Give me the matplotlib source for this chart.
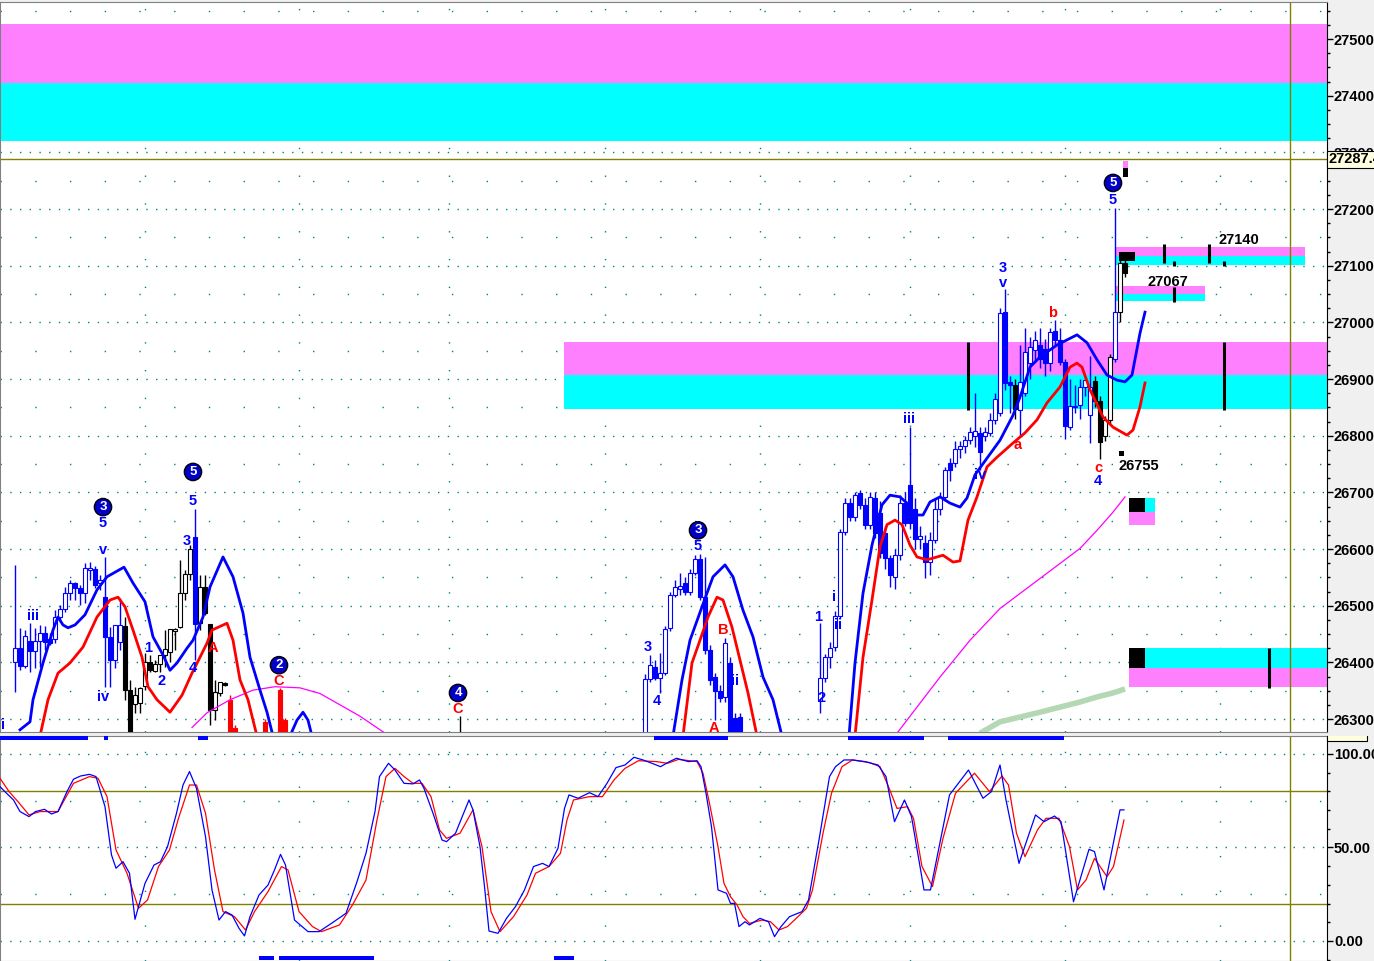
import matplotlib.pyplot as plt
from matplotlib.patches import Rectangle
from matplotlib.ticker import MultipleLocator
from matplotlib.transforms import Bbox, TransformedBbox, blended_transform_factory

plt.rcParams['font.family'] = ['Liberation Sans', 'DejaVu Sans']

BLUE, RED, BLACK = '#0000ff', '#ff0000', '#000000'
PINK, CYAN, OLIVE, TEAL = '#ff80ff', '#00ffff', '#808000', '#008080'

# ---- price candles (bar number, open, high, low, close, colour code) ----
c_bar = [3, 4, 5, 6, 7, 8, 9, 10, 11, 12, 13, 14, 15, 16, 17, 18, 19, 20, 21, 22, 23, 24,
         25, 26, 27, 28, 29, 30, 31, 32, 33, 34, 35, 36, 37, 38, 39, 40, 41, 42, 43, 44, 45,
         46, 47, 53, 56, 57, 92,
         129, 130, 131, 132, 133, 134, 135, 136, 137, 138, 139, 140, 141, 142, 143, 144, 145,
         146, 147, 148,
         164, 165, 166, 167, 168, 169, 170, 171, 172, 173, 174, 175, 176, 177, 178, 179, 180,
         181, 182, 183, 184, 185, 186, 187, 188, 189, 190, 191, 192, 193, 194, 195, 196, 197,
         198, 199, 200, 201, 202, 203, 204, 205, 206, 207, 208, 209, 210, 211, 212, 213, 214,
         215, 216, 217, 218, 219, 220, 221, 222, 223, 224, 225]
c_open = [26401, 26425, 26394, 26438, 26420, 26438, 26452, 26441, 26441, 26480, 26494, 26522,
          26540, 26531, 26522, 26563, 26565, 26540, 26515, 26445, 26404, 26436,
          26464, 26351, 26326, 26328, 26358, 26400, 26385, 26397, 26413, 26418, 26455, 26462,
          26522, 26556, 26621, 26469, 26533, 26468, 26316, 26346, 26363,
          26333, 26284, 26294, 26351, 26298, 26230,
          26250, 26371, 26392, 26372, 26381, 26461, 26519, 26530, 26540, 26524, 26558, 26582,
          26515, 26422, 26374, 26349, 26339, 26399, 26302, 26304,
          26332, 26372, 26409, 26427, 26482, 26630, 26681, 26656, 26699, 26678, 26642, 26690,
          26664, 26628, 26584, 26550, 26589, 26681, 26713, 26671, 26618, 26611, 26577, 26616,
          26671, 26692, 26752, 26752, 26776, 26782, 26792, 26800, 26805, 26800, 26805, 26828,
          26840, 27018, 26895, 26889, 26845, 26876, 26928, 26951, 26960, 26953, 26928, 26985,
          26969, 26930, 26815, 26850, 26854, 26886, 26836, 26896, 26862, 26799, 26827, 26935,
          27018, 27105]
c_high = [26572, 26461, 26457, 26469, 26461, 26466, 26464, 26452, 26492, 26501, 26533, 26545,
          26542, 26536, 26575, 26577, 26570, 26554, 26586, 26462, 26466, 26513,
          26480, 26369, 26356, 26356, 26416, 26413, 26404, 26413, 26457, 26459, 26461, 26581,
          26563, 26607, 26671, 26554, 26554, 26468, 26369, 26365, 26365,
          26342, 26290, 26300, 26355, 26302, 26305,
          26380, 26413, 26404, 26416, 26464, 26525, 26545, 26558, 26550, 26565, 26589, 26591,
          26586, 26430, 26381, 26360, 26443, 26410, 26310, 26310,
          26469, 26415, 26436, 26490, 26635, 26690, 26690, 26700, 26704, 26690, 26700, 26700,
          26685, 26640, 26590, 26600, 26695, 26700, 26815, 26690, 26640, 26625, 26630, 26690,
          26700, 26745, 26760, 26790, 26790, 26800, 26815, 26875, 26815, 26815, 26840, 26875,
          27025, 27059, 26905, 26900, 26960, 26990, 26975, 26985, 26990, 26970, 26990, 27004,
          26990, 26935, 26900, 26890, 26900, 26900, 26940, 26905, 26870, 26835, 26945, 27202,
          27110, 27110]
c_low = [26348, 26387, 26390, 26383, 26390, 26392, 26422, 26431, 26434, 26471, 26489, 26510,
         26510, 26501, 26505, 26545, 26531, 26528, 26356, 26356, 26390, 26422,
         26333, 26200, 26311, 26311, 26351, 26383, 26383, 26383, 26392, 26401, 26422, 26461,
         26510, 26545, 26404, 26457, 26483, 26289, 26298, 26341, 26358,
         26200, 26200, 26200, 26200, 26200, 26200,
         26200, 26365, 26369, 26346, 26378, 26455, 26515, 26519, 26519, 26519, 26555, 26510,
         26415, 26360, 26298, 26330, 26330, 26200, 26200, 26200,
         26311, 26365, 26390, 26420, 26478, 26625, 26650, 26650, 26670, 26635, 26635, 26620,
         26585, 26565, 26533, 26530, 26580, 26640, 26635, 26600, 26600, 26549, 26555, 26610,
         26660, 26685, 26720, 26745, 26760, 26770, 26785, 26780, 26740, 26790, 26800, 26820,
         26835, 26880, 26840, 26830, 26800, 26870, 26900, 26930, 26920, 26905, 26915, 26960,
         26925, 26795, 26810, 26840, 26830, 26870, 26787, 26850, 26759, 26790, 26820, 26930,
         27000, 27080]
c_close = [26425, 26394, 26447, 26420, 26438, 26452, 26436, 26434, 26480, 26494, 26522, 26540,
           26531, 26522, 26566, 26566, 26536, 26545, 26445, 26404, 26466, 26466,
           26351, 26210, 26342, 26355, 26400, 26386, 26397, 26413, 26424, 26459, 26459, 26522,
           26556, 26600, 26468, 26533, 26487, 26316, 26348, 26365, 26360,
           26210, 26210, 26210, 26210, 26210, 26220,
           26371, 26395, 26372, 26381, 26459, 26519, 26533, 26534, 26524, 26558, 26582, 26515,
           26422, 26369, 26349, 26337, 26434, 26220, 26220, 26220,
           26372, 26409, 26425, 26482, 26630, 26681, 26656, 26695, 26678, 26642, 26692, 26628,
           26593, 26584, 26554, 26589, 26681, 26646, 26646, 26618, 26623, 26577, 26616, 26671,
           26692, 26739, 26739, 26776, 26782, 26792, 26806, 26808, 26771, 26806, 26828, 26865,
           27017, 26893, 26890, 26847, 26895, 26948, 26956, 26969, 26935, 26928, 26983, 26969,
           26930, 26817, 26852, 26853, 26886, 26898, 26886, 26862, 26789, 26827, 26939, 27018,
           27105, 27087]
c_col = ('bbbbbbbbbbbbbbbbbbbbbb' 'kkkkkkkkkkkkkkbkkkkkk' 'rrrrrk'
         'bbbbbbbbbbbbbbbbbbbb'
         'bbbbbbbbbbbbbbbbbbbbbbbbbbbbbbbbbbbbbbbkbbbbbbbbbbbbbbbkkkkbkk')

# ---- smoothed bands drawn over the price (bar, price) ----
blue_bands = [
    ([4, 6, 6.6, 8.6, 10.6, 11.6, 12.6, 13.6, 15, 17, 19.4, 21.4, 23, 24.8, 26.6, 29, 30.6,
      32.6, 34, 35.4, 37.4, 38.6, 40.6, 42, 44.6, 46.6, 48.6, 50, 52, 53.4, 54.6],
     [26281, 26295, 26334, 26399, 26457, 26480, 26466, 26461, 26466, 26484, 26528, 26551,
      26559, 26568, 26540, 26507, 26445, 26413, 26386, 26399, 26425, 26439, 26480, 26533,
      26586, 26551, 26487, 26409, 26351, 26312, 26270]),
    ([58, 59.4, 60.6, 61.6, 62.4], [26270, 26298, 26312, 26298, 26270]),
    ([134.6, 136.4, 138, 140.4, 142.6, 145, 146.6, 148.6, 150.6, 152.6, 154.6, 156.4],
     [26270, 26369, 26439, 26498, 26551, 26572, 26551, 26492, 26445, 26374, 26334, 26270]),
    ([169.8, 171, 172.6, 174.4, 176.4, 178, 180, 181.4, 183, 184.6, 186, 188, 190, 192, 193.4,
      195, 200, 202.6, 204, 206, 208, 211.4, 215.4, 217.4, 219.4, 221.4, 223.4, 225, 226.4,
      228, 229],
     [26270, 26399, 26522, 26607, 26678, 26695, 26692, 26681, 26660, 26660, 26683, 26692,
      26681, 26674, 26690, 26731, 26792, 26836, 26868, 26921, 26939, 26960, 26978, 26964,
      26934, 26907, 26898, 26895, 26907, 26981, 27018]),
]
red_bands = [
    ([8, 9.6, 11.6, 14, 16.6, 19.4, 22, 23.6, 25, 26.6, 28.4, 29.6, 31.4, 34, 36.4, 38.4, 40,
      41.4, 42.4, 45.4, 46.6, 48, 49.6, 50.6, 51.4],
     [26270, 26334, 26381, 26399, 26427, 26480, 26510, 26515, 26498, 26457, 26409, 26357,
      26334, 26312, 26342, 26381, 26409, 26434, 26457, 26469, 26439, 26369, 26334, 26298,
      26270]),
    ([136.6, 138.4, 140, 141.6, 143.4, 144.6, 146.4, 148, 149.6, 151.4],
     [26270, 26399, 26439, 26480, 26515, 26510, 26462, 26404, 26346, 26270]),
    ([171, 172.6, 174.4, 176, 177.4, 179, 180.4, 182, 183.4, 185.4, 188.6, 190.6, 192, 193.6,
      195.4, 197.4, 199.4, 202.6, 205, 207.4, 209.4, 212, 214, 215.4, 216.4, 218, 220.6,
      222.6, 225.4, 226.6, 228, 229],
     [26270, 26409, 26510, 26604, 26643, 26651, 26643, 26607, 26586, 26581, 26589, 26577,
      26579, 26651, 26692, 26745, 26762, 26787, 26805, 26828, 26858, 26886, 26921, 26928,
      26921, 26881, 26833, 26815, 26801, 26810, 26851, 26893]),
]
magenta_lines = [
    ([38.4, 41.4, 46, 50.6, 55, 60, 64, 68, 72, 77],
     [26285, 26311, 26334, 26351, 26357, 26355, 26345, 26325, 26305, 26275]),
    ([179.4, 188, 194, 200, 208, 216, 219.4, 222.6, 225],
     [26275, 26374, 26439, 26495, 26548, 26601, 26633, 26665, 26692]),
]
green_x = [196, 200, 208, 216, 219.4, 222.6, 225]
green_y = [26275, 26295, 26312, 26330, 26339, 26346, 26353]

# ---- target zones (x from, x to, low, high, colour) ----
zone_x0 = [0, 0, 112.8, 112.8, 223, 223, 223, 223, 225.8, 225.8, 229, 225.8, 229, 225.8, 224.6]
zone_x1 = [265.4, 265.4, 265.4, 265.4, 261, 261, 241, 241, 231, 229, 231, 265.4, 265.4, 229,
           225.6]
zone_lo = [27422, 27320, 26907, 26847, 27117, 27101, 27050, 27038, 26642, 26665, 26665, 26356,
           26390, 26390, 27272]
zone_hi = [27526, 27422, 26965, 26907, 27133, 27117, 27064, 27050, 26665, 26690, 26690, 26390,
           26425, 26425, 27285]
zone_col = [PINK, CYAN, PINK, CYAN, PINK, CYAN, PINK, CYAN, PINK, BLACK, CYAN, PINK, CYAN,
            BLACK, PINK]
box_x0 = [223.8, 224.6, 223.8]
box_x1 = [227, 225.6, 224.8]
box_lo = [27108, 27256, 26764]
box_hi = [27124, 27272, 26773]
tick_bar = [232.8, 234.8, 241.8, 244.8, 234.8, 193.6, 244.8, 253.8]
tick_lo = [27104, 27099, 27104, 27099, 27036, 26845, 26845, 26355]
tick_hi = [27138, 27108, 27138, 27108, 27062, 26965, 26965, 26425]

# ---- wave labels (bar, price, text, colour) ----
lab_x = [0.6, 6.6, 20.6, 20.6, 20.6, 38.6, 37.4, 29.6, 32.4, 38.6, 42.6, 55.8, 91.6,
         129.6, 131.4, 139.6, 144.6, 147, 142.8, 163.6, 164.4, 166.8, 167.6, 181.8, 196,
         200.6, 200.6, 210.6, 203.6, 219.6, 219.6, 222.6]
lab_y = [26289, 26482, 26646, 26598, 26339, 26685, 26614, 26425, 26367, 26390, 26425, 26367,
         26318, 26427, 26332, 26605, 26457, 26367, 26284, 26480, 26337, 26515, 26466, 26829,
         26731, 27096, 27069, 27016, 26783, 26743, 26720, 27216]
lab_t = ['i', 'iii', '5', 'v', 'iv', '5', '3', '1', '2', '4', 'A', 'C', 'C',
         '3', '4', '5', 'B', 'ii', 'A', '1', '2', 'i', 'ii', 'iii', 'iv',
         '3', 'v', 'b', 'a', 'c', '4', '5']
lab_c = ('bbbbbbbbbbrrr' 'bbbrbr' 'bbbbbb' 'bbrrrbb')
circ_x = [20.6, 38.6, 55.8, 91.6, 139.6, 222.6]
circ_y = [26674, 26736, 26395, 26346, 26633, 27246]
circ_t = ['3', '5', '2', '4', '3', '5']
num_x = [223.6, 229.4, 243.6]
num_y = [26746, 27071, 27145]
num_t = ['26755', '27067', '27140']

# ---- stochastic oscillator (bar, value) ----
k_x = [0.0, 1.3, 2.7, 4.0, 5.8, 7.1, 8.9, 10.3, 11.6, 13.4, 14.7, 16.1, 17.9, 19.2, 21.0,
       22.3, 23.2, 24.6, 25.9, 27.0, 29.0, 30.8, 32.1, 33.5, 35.3, 36.6, 37.9, 39.3, 41.1,
       42.4, 43.8, 45.1, 46.4, 47.8, 48.9, 50.0, 51.8, 53.6, 54.9, 56.1, 57.1, 58.9, 61.6,
       63.8, 66.5, 69.2, 71.4, 73.2, 75.0, 75.9, 77.7, 79.0, 80.8, 82.6, 83.9, 84.8, 86.6,
       88.4, 89.3, 91.1, 93.8, 94.6, 96.0, 96.9, 97.8, 99.6, 101.3, 103.1, 104.9, 106.7,
       108.5, 109.8, 111.6, 112.9, 113.8, 115.6, 117.9, 119.6, 121.4, 123.2, 125.0, 126.8,
       128.6, 130.4, 132.1, 133.9, 135.3, 137.7, 139.4, 140.2, 141.2, 142.3, 143.6, 145.3,
       146.1, 146.9, 147.8, 149.0, 149.9, 152.0, 153.7, 154.9, 156.2, 157.9, 160.4, 161.7,
       163.8, 165.9, 167.1, 168.8, 170.5, 173.0, 175.6, 177.2, 178.9, 180.9, 182.3, 184.8,
       186.1, 189.9, 193.7, 196.6, 198.3, 200.0, 201.2, 203.8, 207.1, 208.8, 210.9, 212.2,
       214.7, 217.8, 218.9, 220.8, 224.0, 224.8]
k_v = [82.5, 79.0, 75.4, 69.2, 66.5, 69.2, 70.4, 67.9, 69.2, 79.9, 86.5, 88.2, 89.1, 87.9, 71.8,
       46.0, 38.9, 42.4, 36.2, 11.6, 30.8, 40.6, 42.4, 50.4, 68.3, 83.4, 90.6, 81.6, 55.8,
       27.3, 11.2, 15.7, 13.9, 6.8, 2.7, 13.0, 24.6, 29.9, 38.0, 46.3, 40.6, 11.2, 5.0,
       5.0, 9.8, 14.8, 31.7, 46.9, 69.2, 87.9, 95.0, 91.4, 84.3, 84.0, 86.1, 81.6, 68.3,
       54.0, 53.1, 57.6, 75.4, 70.1, 50.4, 29.1, 5.3, 4.1, 12.1, 18.4, 27.3, 39.8,
       41.5, 39.8, 49.6, 70.9, 78.1, 76.3, 79.3, 77.2, 84.3, 92.7, 94.1, 98.2,
       96.8, 95.0, 93.2, 95.9, 97.7, 95.9, 96.4, 93.2, 79.0, 61.1, 27.3, 25.5,
       20.1, 20.1, 7.7, 10.3, 8.6, 12.1, 10.3, 2.3, 7.7, 13.0, 15.7, 21.9,
       54.0, 87.9, 93.2, 96.8, 96.8, 95.9, 94.1, 87.9, 63.8, 75.4, 66.5, 27.3,
       27.3, 78.1, 91.4, 76.3, 79.9, 94.1, 75.4, 41.5, 67.4, 63.8, 66.8, 63.8,
       21.0, 49.0, 47.8, 27.3, 70.1, 70.1]
d_x = [0.0, 1.8, 3.6, 5.8, 8.0, 11.6, 14.7, 17.9, 19.6, 21.4, 23.2, 25.4, 27.7, 29.5, 31.7,
       33.9, 35.7, 37.9, 39.3, 41.1, 42.9, 44.6, 46.9, 49.1, 50.9, 53.6, 56.3, 57.6, 59.8,
       62.5, 64.3, 67.9, 70.5, 73.2, 75.4, 77.2, 79.0, 80.8, 82.6, 84.4, 86.2, 87.9, 89.3,
       92.0, 94.6, 96.4, 98.2, 100.0, 102.7, 105.4, 107.1, 109.8, 112.1, 113.4, 114.7, 117.9,
       120.5, 122.8, 125.0, 127.7, 131.3, 133.5, 135.7, 139.4, 140.6, 141.9, 143.6, 144.8,
       146.1, 147.4, 148.6, 149.9, 152.4, 154.1, 155.8, 157.5, 159.6, 161.3, 162.5, 164.6,
       166.3, 168.4, 170.5, 173.9, 176.0, 177.7, 179.4, 181.5, 182.7, 184.4, 186.5, 188.6,
       191.1, 194.9, 197.9, 200.4, 201.7, 203.3, 205.0, 207.5, 209.2, 211.8, 213.9, 215.5,
       217.2, 218.9, 221.4, 222.7, 224.8]
d_v = [87.0, 79.9, 74.5, 67.4, 69.2, 69.2, 84.3, 87.9, 87.0, 77.2, 48.7, 36.2, 17.5, 21.9, 39.8,
       48.7, 65.6, 83.4, 83.4, 68.3, 38.0, 15.7, 13.0, 5.9, 15.7, 26.4, 39.8, 38.0, 15.7,
       7.7, 5.0, 8.6, 19.3, 32.6, 64.7, 87.9, 92.3, 87.9, 84.3, 84.3, 77.2, 59.4, 54.9,
       57.6, 70.1, 50.4, 15.7, 5.0, 13.0, 24.6, 36.2, 39.8, 46.9, 64.7, 75.4, 77.2,
       77.2, 86.1, 92.3, 96.4, 95.9, 95.0, 97.1, 95.9, 89.7, 73.6, 50.4, 30.8,
       23.7, 19.3, 13.0, 9.4, 11.2, 10.3, 5.9, 7.7, 13.0, 17.5, 27.3, 57.6,
       79.0, 93.2, 96.8, 95.4, 93.2, 82.5, 70.9, 71.8, 65.6, 39.8, 29.1, 54.9,
       79.0, 89.7, 79.9, 88.2, 83.4, 57.6, 45.1, 59.4, 65.6, 65.6, 50.4, 27.3,
       32.6, 44.2, 34.4, 39.8, 64.7]
top_marks_x0 = [0, 20.8, 39.6, 130.8, 169.6, 189.6]
top_marks_x1 = [17.6, 21.6, 41.6, 145.6, 184.8, 212.8]
bot_marks_x0 = [51.8, 55.8, 110.8]
bot_marks_x1 = [54.8, 74.8, 114.8]

grid_bars = [29, 59.8, 89.8, 121, 152, 182, 213, 244]

fig = plt.figure(figsize=(13.74, 9.61), dpi=100, facecolor='#f0f0f0')
ax = fig.add_axes([0, 229 / 961, 1327 / 1374, 730 / 961])
osc = fig.add_axes([0, 0, 1327 / 1374, 225 / 961])
X0, X1 = 0, 265.4
ax.set_xlim(X0, X1)
ax.set_ylim(26277.1, 27565.3)
osc.set_xlim(X0, X1)
osc.set_ylim(-10.7, 109.6)

# grid
for lvl in range(26300, 27501, 100):
    ax.axhline(lvl, color=TEAL, lw=1, ls=(0, (1, 6)), zorder=0.5)
    ax.axhline(lvl + 50, color=TEAL, lw=1, ls=(0, (1, 24)), zorder=0.5)
for gb in grid_bars:
    ax.axvline(gb, color=TEAL, lw=1, ls=(0, (1, 19)), zorder=0.5)
    osc.axvline(gb, color=TEAL, lw=1, ls=(0, (1, 24)), zorder=0.5)
for lvl in (0, 50, 100):
    osc.axhline(lvl, color=TEAL, lw=1, ls=(0, (1, 6)), zorder=0.5)
for lvl in (25, 75):
    osc.axhline(lvl, color=TEAL, lw=1, ls=(0, (1, 24)), zorder=0.5)

# zones and markers
for x0, x1, lo, hi, col in zip(zone_x0, zone_x1, zone_lo, zone_hi, zone_col):
    ax.add_patch(Rectangle((x0, lo), x1 - x0, hi - lo, facecolor=col, edgecolor='none', zorder=1))
for x0, x1, lo, hi in zip(box_x0, box_x1, box_lo, box_hi):
    ax.add_patch(Rectangle((x0, lo), x1 - x0, hi - lo, facecolor=BLACK, edgecolor='none', zorder=4))
ax.vlines(tick_bar, tick_lo, tick_hi, color=BLACK, lw=2.2, zorder=4)

ax.axhline(27287.4, color=OLIVE, lw=1, zorder=2)
ax.axvline(258, color=OLIVE, lw=1, zorder=2)
osc.axvline(258, color=OLIVE, lw=1, zorder=2)

# candles
cmap = {'b': BLUE, 'k': BLACK, 'r': RED}
for b, o, h, l, c, cc in zip(c_bar, c_open, c_high, c_low, c_close, c_col):
    col = cmap[cc]
    ax.vlines(b, l, h, color=col, lw=1, zorder=3)
    lo, hi = min(o, c), max(o, c)
    if hi - lo < 2:
        hi = lo + 2
    face = 'white' if c > o else col
    ax.add_patch(Rectangle((b - 0.42, lo), 0.84, hi - lo, facecolor=face, edgecolor=col,
                           lw=0.8, zorder=3.2))

for xs, ys in magenta_lines:
    ax.plot(xs, ys, color='#ff00ff', lw=0.9, zorder=3.5)
ax.plot(green_x, green_y, color='#b4d8b4', lw=4, solid_capstyle='butt', zorder=3.5)
for xs, ys in red_bands:
    ax.plot(xs, ys, color=RED, lw=2, zorder=3.6)
for xs, ys in blue_bands:
    ax.plot(xs, ys, color=BLUE, lw=2, zorder=3.6)

# labels
for x, y, t, cc in zip(lab_x, lab_y, lab_t, lab_c):
    ax.text(x, y, t, color=cmap[cc], fontsize=10.5, fontweight='bold', ha='center',
            va='center', zorder=6)
for x, y, t in zip(circ_x, circ_y, circ_t):
    ax.text(x, y, t, color='white', fontsize=9.5, fontweight='bold', ha='center', va='center',
            zorder=6, bbox=dict(boxstyle='circle,pad=0.2', fc='#0000c8', ec=BLACK, lw=1))
for x, y, t in zip(num_x, num_y, num_t):
    ax.text(x, y, t, color=BLACK, fontsize=10.5, fontweight='bold', ha='left', va='center',
            zorder=6)

# price axis on the right
ax.yaxis.tick_right()
ax.set_yticks(range(26300, 27501, 100))
ax.set_yticklabels([f'{v}.' for v in range(26300, 27501, 100)], fontweight='bold')
ax.yaxis.set_minor_locator(MultipleLocator(25))
ax.tick_params(axis='y', which='major', direction='out', length=4, width=1, pad=1, labelsize=10.5)
ax.tick_params(axis='y', which='minor', direction='out', length=2, width=1)
ax.set_xticks([])
for s in ('left', 'top', 'bottom'):
    ax.spines[s].set_color('#808080')
trans = blended_transform_factory(ax.transAxes, ax.transData)
ax.text(1.0015, 27287.4, '27287.4', transform=trans, ha='left', va='center', fontsize=10.5,
        fontweight='bold', zorder=10, clip_on=False,
        bbox=dict(boxstyle='square,pad=0.12', fc='#ffffe0', ec=BLACK, lw=0.8))

# oscillator
osc.axhline(80, color=OLIVE, lw=1, zorder=2)
osc.axhline(20, color=OLIVE, lw=1, zorder=2)
osc.plot(d_x, d_v, color=RED, lw=0.9, zorder=3)
osc.plot(k_x, k_v, color=BLUE, lw=0.9, zorder=3.1)
for x0, x1 in zip(top_marks_x0, top_marks_x1):
    osc.add_patch(Rectangle((x0, 107.2), x1 - x0, 2.2, facecolor=BLUE, edgecolor='none', zorder=4))
for x0, x1 in zip(bot_marks_x0, bot_marks_x1):
    osc.add_patch(Rectangle((x0, -10.2), x1 - x0, 2.2, facecolor=BLUE, edgecolor='none', zorder=4))
osc.yaxis.tick_right()
osc.set_yticks([0, 50, 100])
osc.set_yticklabels(['0.00', '50.00', '100.00'], fontweight='bold')
osc.yaxis.set_minor_locator(MultipleLocator(10))
osc.tick_params(axis='y', which='major', direction='out', length=4, width=1, pad=1, labelsize=10.5)
osc.tick_params(axis='y', which='minor', direction='out', length=2, width=1)
osc.set_xticks([])
for s in ('left', 'top', 'bottom'):
    osc.spines[s].set_color('#808080')
otrans = blended_transform_factory(osc.transAxes, osc.transData)
t110 = osc.text(1.0015, 111.5, '110.0', transform=otrans, ha='left', va='center', fontsize=10.5,
                fontweight='bold', zorder=10,
                bbox=dict(boxstyle='square,pad=0.12', fc='#ffffe0', ec=BLACK, lw=0.8))
t110.set_clip_box(TransformedBbox(Bbox([[0, 0], [1, 225 / 961]]), fig.transFigure))
t110.set_clip_on(True)

fig.savefig('out.png', dpi=100, facecolor=fig.get_facecolor())
